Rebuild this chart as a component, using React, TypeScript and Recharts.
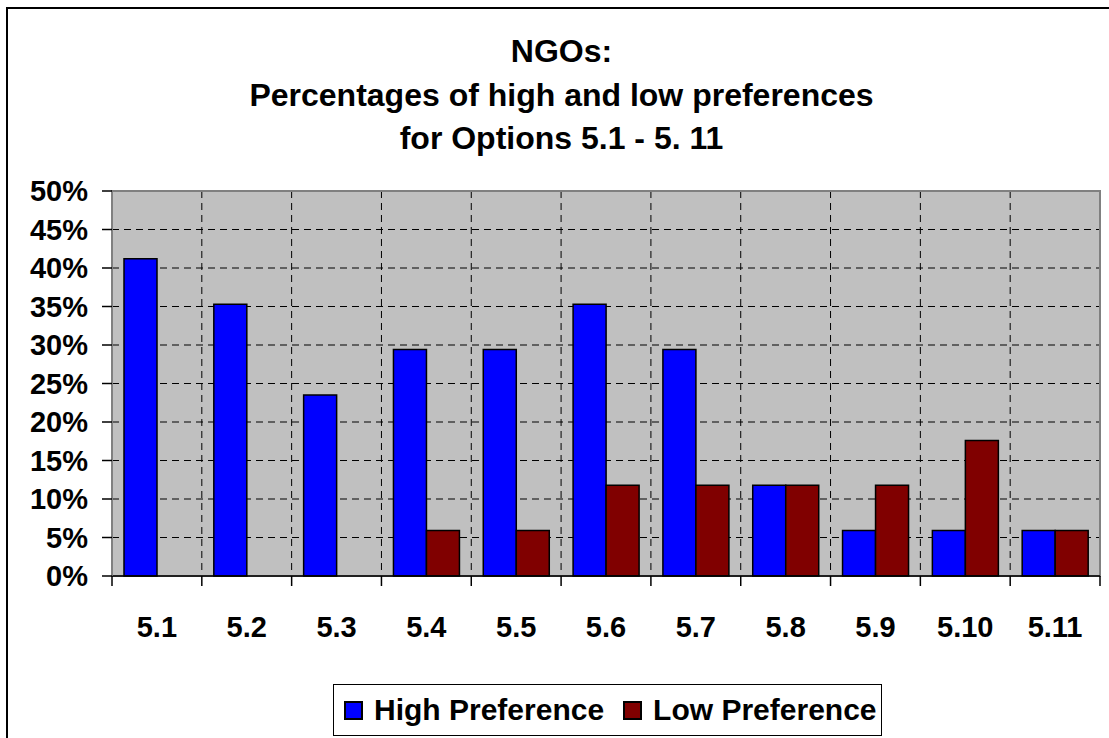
import React from 'react';
import { BarChart, Bar, XAxis, YAxis, CartesianGrid, Legend, ReferenceArea } from 'recharts';

const options = ['5.1', '5.2', '5.3', '5.4', '5.5', '5.6', '5.7', '5.8', '5.9', '5.10', '5.11'];
const highPreference = [41.2, 35.3, 23.5, 29.4, 29.4, 35.3, 29.4, 11.8, 5.9, 5.9, 5.9];
const lowPreference = [0, 0, 0, 5.9, 5.9, 11.8, 11.8, 11.8, 11.8, 17.6, 5.9];
const percentTicks = [0, 5, 10, 15, 20, 25, 30, 35, 40, 45, 50];
const titleLines = ['NGOs:', 'Percentages of high and low preferences', 'for Options 5.1 - 5. 11'];

const FONT = '"Liberation Sans", Arial, Helvetica, sans-serif';
const HIGH_COLOR = '#0000FF';
const LOW_COLOR = '#800000';
const TICK_SIZE = 10;
const TICK_MARGIN = 30;

const chartData = options.map((option, i) => ({
    option,
    high: highPreference[i],
    low: lowPreference[i],
}));

const seriesList = [
    { key: 'high', name: 'High Preference', color: HIGH_COLOR },
    { key: 'low', name: 'Low Preference', color: LOW_COLOR },
];

// Excel-style category ticks: label in the middle, tick mark on the band edges
const OptionTick = (props: any) => {
    const { x, y, payload, index, visibleTicksCount, width } = props;
    const count = visibleTicksCount || options.length;
    const band = (width || 988) / count;
    const axisY = y - TICK_SIZE - TICK_MARGIN;
    const left = x - band / 2;
    return (
        <g>
            <line x1={left} x2={left} y1={axisY} y2={axisY + TICK_SIZE} stroke="#000" strokeWidth={1.5} />
            {index === count - 1 && (
                <line x1={x + band / 2} x2={x + band / 2} y1={axisY} y2={axisY + TICK_SIZE} stroke="#000" strokeWidth={1.5} />
            )}
            <text x={x} y={y} dy="0.71em" textAnchor="middle" fontFamily={FONT} fontSize={29} fontWeight="bold" fill="#000">
                {payload.value}
            </text>
        </g>
    );
};

const LegendBox = () => (
    <div
        style={{
            boxSizing: 'border-box',
            width: 549,
            height: 52,
            border: '1px solid #000',
            background: '#fff',
            display: 'flex',
            alignItems: 'center',
            paddingLeft: 10,
            fontFamily: FONT,
            fontSize: 30,
            fontWeight: 'bold',
            color: '#000',
        }}
    >
        {seriesList.map((s, i) => (
            <div key={s.key} style={{ display: 'flex', alignItems: 'center', marginRight: i === 0 ? 19 : 0 }}>
                <span
                    style={{
                        display: 'inline-block',
                        boxSizing: 'border-box',
                        width: 19,
                        height: 19,
                        background: s.color,
                        border: '2px solid #000',
                        marginRight: 11,
                    }}
                />
                <span style={{ whiteSpace: 'nowrap' }}>{s.name}</span>
            </div>
        ))}
    </div>
);

export default function App() {
    return (
        <div style={{ position: 'absolute', left: 0, top: 0, width: 1109, height: 738, overflow: 'hidden', background: '#fff' }}>
            <div
                style={{
                    position: 'absolute',
                    left: 6,
                    top: 7,
                    width: 1200,
                    height: 800,
                    border: '2px solid #000',
                }}
            />
            <div
                style={{
                    position: 'absolute',
                    left: 0,
                    top: 30,
                    width: 1123,
                    textAlign: 'center',
                    fontFamily: FONT,
                    fontSize: 32,
                    fontWeight: 'bold',
                    lineHeight: '43.5px',
                    color: '#000',
                }}
            >
                {titleLines.map(line => (
                    <div key={line}>{line}</div>
                ))}
            </div>
            <div style={{ position: 'absolute', left: 0, top: 0 }}>
                <BarChart
                    width={1109}
                    height={738}
                    data={chartData}
                    margin={{ top: 191, right: 9, left: 12, bottom: 102 }}
                    barSize={33}
                    barGap={0}
                >
                    <CartesianGrid
                        fill="#C0C0C0"
                        fillOpacity={1}
                        stroke="#000"
                        strokeDasharray="7 5"
                        verticalCoordinatesGenerator={({ offset }: any) =>
                            options.slice(1).map((_, i) => offset.left + ((i + 1) * offset.width) / options.length)
                        }
                    />
                    <XAxis
                        dataKey="option"
                        interval={0}
                        height={60}
                        tickLine={false}
                        tickSize={TICK_SIZE}
                        tickMargin={TICK_MARGIN}
                        axisLine={{ stroke: '#000', strokeWidth: 1.5 }}
                        tick={<OptionTick />}
                    />
                    <YAxis
                        width={100}
                        domain={[0, 50]}
                        ticks={percentTicks}
                        interval={0}
                        tickFormatter={(v: number) => `${v}%`}
                        tickSize={TICK_SIZE}
                        tickMargin={14}
                        tickLine={{ stroke: '#000', strokeWidth: 1.5 }}
                        axisLine={{ stroke: '#808080', strokeWidth: 1.5 }}
                        tick={{ fontFamily: FONT, fontSize: 29, fontWeight: 'bold', fill: '#000' }}
                    />
                    <ReferenceArea y1={0} y2={50} fill="none" stroke="#808080" strokeWidth={2} ifOverflow="visible" />
                    {seriesList.map(s => (
                        <Bar
                            key={s.key}
                            dataKey={s.key}
                            name={s.name}
                            fill={s.color}
                            stroke="#000"
                            strokeWidth={1.5}
                            isAnimationActive={false}
                        />
                    ))}
                    <Legend
                        layout="horizontal"
                        verticalAlign="middle"
                        align="center"
                        wrapperStyle={{ left: 333, top: 684, width: 549, height: 52 }}
                        content={<LegendBox />}
                    />
                </BarChart>
            </div>
        </div>
    );
}
